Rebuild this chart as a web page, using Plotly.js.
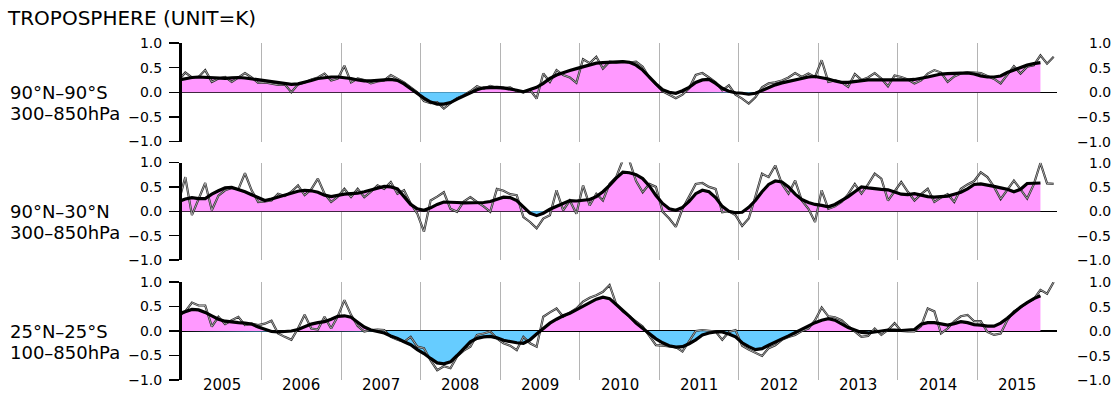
<!DOCTYPE html>
<html><head><meta charset="utf-8">
<script src="https://cdn.plot.ly/plotly-3.0.1.min.js"></script>
<style>html,body{margin:0;padding:0;background:#fff}#c{width:1120px;height:394px}</style>
</head><body><div id="c"></div>
<script>
const chartTitle = 'TROPOSPHERE (UNIT=K)';
const regionLabels = [['90°N–90°S', '300–850hPa'], ['90°N–30°N', '300–850hPa'], ['25°N–25°S', '100–850hPa']];
const yearLabels = ['2005','2006','2007','2008','2009','2010','2011','2012','2013','2014','2015'];
const yTicks = [-1, -0.5, 0, 0.5, 1];
const firstMonthOffset = -1; // series start in Dec 2004 (one month before Jan 2005)

// Monthly anomalies (K), Dec 2004 .. Dec 2015
const raw1 = [0.25,
 0.40,0.30,0.31,0.45,0.21,0.28,0.31,0.21,0.30,0.39,0.30,0.19,
 0.20,0.17,0.15,0.16,0.00,0.16,0.20,0.26,0.30,0.38,0.24,0.28,
 0.54,0.20,0.28,0.25,0.18,0.22,0.24,0.35,0.27,0.20,0.10,0.00,
 -0.18,-0.22,-0.20,-0.33,-0.22,-0.12,-0.06,0.02,0.12,0.07,0.13,0.09,
 0.08,0.10,0.02,0.00,0.05,-0.13,0.38,0.21,0.45,0.35,0.30,0.19,
 0.67,0.59,0.72,0.48,0.62,0.60,0.62,0.60,0.62,0.52,0.30,0.15,
 0.02,-0.05,-0.12,-0.05,0.08,0.35,0.39,0.30,0.20,0.04,0.14,-0.05,
 -0.13,-0.23,-0.10,0.10,0.18,0.20,0.24,0.30,0.39,0.31,0.38,0.31,
 0.65,0.21,0.24,0.20,0.11,0.37,0.25,0.30,0.39,0.28,0.12,0.34,
 0.31,0.26,0.18,0.24,0.38,0.45,0.40,0.21,0.32,0.38,0.41,0.40,
 0.39,0.33,0.27,0.18,0.35,0.53,0.38,0.52,0.55,0.75,0.58,0.72];
// Running mean (K), Dec 2004 .. Oct 2015
const smooth1 = [0.25,
 0.28,0.30,0.31,0.30,0.29,0.28,0.28,0.29,0.30,0.29,0.27,0.25,
 0.23,0.21,0.19,0.17,0.16,0.17,0.20,0.24,0.28,0.30,0.31,0.31,
 0.30,0.28,0.25,0.23,0.23,0.24,0.25,0.26,0.24,0.17,0.07,-0.03,
 -0.12,-0.20,-0.24,-0.24,-0.21,-0.14,-0.08,-0.01,0.05,0.09,0.10,0.10,
 0.09,0.07,0.04,0.01,0.05,0.10,0.18,0.28,0.35,0.40,0.44,0.48,
 0.52,0.56,0.59,0.60,0.61,0.62,0.62,0.61,0.55,0.45,0.30,0.17,
 0.05,0.00,-0.02,0.03,0.10,0.20,0.25,0.26,0.18,0.08,0.02,-0.01,
 -0.02,-0.04,-0.02,0.04,0.10,0.15,0.19,0.22,0.26,0.29,0.31,0.32,
 0.30,0.27,0.23,0.20,0.20,0.22,0.24,0.25,0.25,0.25,0.24,0.24,
 0.25,0.25,0.26,0.28,0.31,0.34,0.37,0.38,0.39,0.39,0.39,0.37,
 0.33,0.31,0.31,0.33,0.40,0.45,0.50,0.55,0.58,0.60];

const raw2 = [0.20,
 0.70,-0.08,0.25,0.58,0.02,0.32,0.43,0.48,0.45,0.78,0.43,0.19,
 0.20,0.22,0.36,0.31,0.40,0.53,0.33,0.45,0.67,0.36,0.19,0.30,
 0.46,0.29,0.46,0.29,0.40,0.53,0.46,0.60,0.36,0.43,0.16,-0.05,
 -0.42,0.22,0.30,0.39,0.05,-0.01,0.20,0.29,0.19,0.10,-0.01,0.46,
 0.42,0.35,0.33,-0.12,-0.22,-0.35,-0.15,-0.08,0.43,0.02,0.22,-0.05,
 0.53,0.12,0.36,0.22,0.56,0.70,1.05,1.03,0.62,0.39,0.56,0.50,
 -0.01,-0.15,-0.32,0.05,0.30,0.56,0.58,0.50,0.46,-0.02,0.00,-0.08,
 -0.30,-0.15,0.30,0.77,0.70,0.94,0.56,0.36,0.63,0.22,0.05,-0.22,
 0.43,0.05,0.10,0.19,0.35,0.56,0.36,0.55,0.77,0.67,0.22,0.40,
 0.60,0.40,0.22,0.35,0.46,0.19,0.28,0.35,0.19,0.46,0.55,0.62,
 0.80,0.70,0.50,0.25,0.45,0.63,0.45,0.26,0.55,0.99,0.57,0.56];
const smooth2 = [0.20,
 0.25,0.28,0.26,0.26,0.35,0.42,0.48,0.49,0.45,0.40,0.34,0.28,
 0.22,0.25,0.29,0.33,0.37,0.41,0.43,0.42,0.39,0.33,0.30,0.33,
 0.35,0.36,0.37,0.40,0.44,0.48,0.51,0.50,0.46,0.30,0.14,0.05,
 0.02,0.07,0.14,0.19,0.19,0.18,0.17,0.17,0.17,0.18,0.20,0.25,
 0.29,0.28,0.22,0.09,-0.04,-0.09,-0.04,0.04,0.10,0.16,0.22,0.21,
 0.22,0.24,0.30,0.40,0.53,0.68,0.80,0.79,0.75,0.67,0.52,0.32,
 0.16,0.05,0.02,0.08,0.20,0.36,0.43,0.40,0.28,0.10,0.00,-0.03,
 -0.02,0.08,0.22,0.40,0.55,0.62,0.60,0.50,0.35,0.24,0.18,0.14,
 0.12,0.09,0.14,0.22,0.30,0.40,0.50,0.48,0.46,0.45,0.44,0.40,
 0.35,0.34,0.36,0.33,0.30,0.29,0.30,0.31,0.35,0.39,0.46,0.55,
 0.56,0.54,0.51,0.48,0.45,0.40,0.45,0.57,0.58,0.58];

const raw3 = [0.30,
 0.40,0.58,0.52,0.52,0.09,0.29,0.14,0.22,0.29,0.12,0.15,0.12,
 0.15,0.21,-0.05,-0.12,-0.18,0.05,0.33,0.05,0.03,0.29,0.05,0.30,
 0.63,0.33,0.10,-0.01,0.02,0.03,0.02,-0.12,-0.18,-0.22,-0.12,-0.32,
 -0.35,-0.60,-0.80,-0.72,-0.76,-0.52,-0.40,-0.32,-0.08,-0.05,-0.01,-0.15,
 -0.25,-0.30,-0.39,-0.12,-0.25,-0.32,0.29,0.38,0.46,0.29,0.38,0.46,
 0.60,0.68,0.73,0.80,0.94,0.55,0.40,0.30,0.19,0.09,-0.10,-0.29,
 -0.30,-0.31,-0.33,-0.42,-0.22,0.00,0.02,0.00,-0.01,-0.18,-0.02,0.02,
 -0.30,-0.38,-0.45,-0.51,-0.35,-0.29,-0.18,-0.12,-0.08,0.00,0.05,0.22,
 0.48,0.30,0.28,0.22,0.10,-0.01,-0.12,-0.10,0.05,-0.08,0.02,0.16,
 0.00,-0.01,-0.01,0.10,0.46,0.40,-0.05,0.05,0.20,0.30,0.33,0.20,
 0.20,-0.02,-0.08,-0.05,0.22,0.40,0.48,0.58,0.65,0.84,0.76,1.00];
const smooth3 = [0.35,
 0.40,0.44,0.43,0.38,0.31,0.24,0.20,0.18,0.17,0.16,0.14,0.08,
 0.03,-0.01,-0.02,-0.01,0.00,0.03,0.08,0.14,0.17,0.19,0.24,0.30,
 0.31,0.28,0.18,0.08,0.02,-0.01,-0.04,-0.10,-0.15,-0.22,-0.28,-0.38,
 -0.46,-0.56,-0.65,-0.67,-0.63,-0.50,-0.36,-0.22,-0.15,-0.12,-0.11,-0.14,
 -0.19,-0.22,-0.24,-0.25,-0.18,-0.06,0.06,0.16,0.24,0.31,0.36,0.43,
 0.50,0.57,0.65,0.69,0.66,0.54,0.43,0.30,0.16,0.05,-0.07,-0.16,
 -0.24,-0.30,-0.33,-0.32,-0.26,-0.18,-0.08,-0.04,-0.02,-0.02,-0.06,-0.12,
 -0.24,-0.32,-0.38,-0.36,-0.29,-0.22,-0.16,-0.10,-0.03,0.03,0.11,0.17,
 0.22,0.25,0.22,0.15,0.07,0.02,-0.03,-0.04,-0.02,0.00,0.02,0.02,
 0.01,0.02,0.03,0.14,0.17,0.17,0.15,0.12,0.15,0.19,0.17,0.13,
 0.12,0.10,0.10,0.16,0.26,0.38,0.49,0.58,0.66,0.72];

const panels = [[raw1, smooth1], [raw2, smooth2], [raw3, smooth3]];
const PINK = '#ff99ff', BLUE = '#66ccff';
const FONT = 'DejaVu Sans, Liberation Sans, sans-serif';
const startYear = Number(yearLabels[0]);
const endYear = Number(yearLabels[yearLabels.length - 1]) + 1;

function monthX(k) { return startYear + (k + firstMonthOffset + 0.5) / 12; }
function fmt(v) { return (v < 0 ? '\u2212' : '') + Math.abs(v).toFixed(1); }

function splitFill(xs, ys) {
  const pos = {x: [], y: []}, neg = {x: [], y: []};
  for (let i = 0; i < ys.length; i++) {
    if (i > 0 && ys[i - 1] * ys[i] < 0) {
      const xc = xs[i - 1] + (xs[i] - xs[i - 1]) * (0 - ys[i - 1]) / (ys[i] - ys[i - 1]);
      pos.x.push(xc); pos.y.push(0); neg.x.push(xc); neg.y.push(0);
    }
    pos.x.push(xs[i]); pos.y.push(Math.max(ys[i], 0));
    neg.x.push(xs[i]); neg.y.push(Math.min(ys[i], 0));
  }
  return [pos, neg];
}

const traces = [];
panels.forEach(([raw, sm], p) => {
  const xa = p === 0 ? 'x' : 'x' + (p + 1);
  const ya = p === 0 ? 'y' : 'y' + (p + 1);
  const rx = raw.map((_, k) => monthX(k));
  const sx = sm.map((_, k) => monthX(k));
  const [pos, neg] = splitFill(sx, sm);
  traces.push({x: pos.x, y: pos.y, xaxis: xa, yaxis: ya, type: 'scatter', mode: 'lines',
    fill: 'tozeroy', fillcolor: PINK, line: {width: 0, color: PINK}, hoverinfo: 'skip'});
  traces.push({x: neg.x, y: neg.y, xaxis: xa, yaxis: ya, type: 'scatter', mode: 'lines',
    fill: 'tozeroy', fillcolor: BLUE, line: {width: 0, color: BLUE}, hoverinfo: 'skip'});
  traces.push({x: rx, y: raw, xaxis: xa, yaxis: ya, type: 'scatter', mode: 'lines',
    line: {color: '#2a2a2a', width: 2.2}, hoverinfo: 'skip'});
  traces.push({x: rx, y: raw, xaxis: xa, yaxis: ya, type: 'scatter', mode: 'lines',
    line: {color: '#d8d8d8', width: 0.7}, hoverinfo: 'skip'});
  traces.push({x: sx, y: sm, xaxis: xa, yaxis: ya, type: 'scatter', mode: 'lines',
    line: {color: '#000000', width: 3.2}, hoverinfo: 'skip'});
});

const H = 394, W = 1120, ML = 182, MR = 63, MT = 43, MB = 14;
const plotH = H - MT - MB, plotW = W - ML - MR;
function dom(topPx, botPx) { return [(H - MB - botPx) / plotH, (H - MB - topPx) / plotH]; }
const domains = [dom(43, 141.5), dom(162.5, 260), dom(282, 380)];

const yearMid = yearLabels.map(y => Number(y) + 0.5);
const yearEdges = yearLabels.map(Number).concat([endYear]);

const layout = {
  width: W, height: H,
  margin: {l: ML, r: MR, t: MT, b: MB, pad: 0},
  paper_bgcolor: '#fff', plot_bgcolor: '#fff',
  showlegend: false,
  font: {family: FONT, color: '#000', size: 14},
  title: {text: chartTitle, x: 8 / W, xanchor: 'left', xref: 'container',
    y: 1 - 18 / H, yanchor: 'middle', yref: 'container', font: {size: 20, family: FONT, color: '#000'}},
  annotations: []
};

for (let p = 0; p < 3; p++) {
  const xk = p === 0 ? 'xaxis' : 'xaxis' + (p + 1);
  const yk = p === 0 ? 'yaxis' : 'yaxis' + (p + 1);
  const yr = 'yaxis' + (p + 4);
  const xref = p === 0 ? 'x' : 'x' + (p + 1);
  const yref = p === 0 ? 'y' : 'y' + (p + 1);
  layout[xk] = {
    range: [startYear, endYear], domain: [0, 1], anchor: yref,
    tickmode: 'array', tickvals: yearMid, ticktext: yearLabels,
    showticklabels: false, ticks: '', showgrid: false, zeroline: false, showline: false,
    minor: {tickmode: 'array', tickvals: yearEdges, showgrid: true, gridcolor: '#b4b4b4', gridwidth: 1, ticks: ''},
    fixedrange: true
  };
  const yBase = {
    range: [-1, 1], domain: domains[p],
    tickmode: 'array', tickvals: yTicks, ticktext: yTicks.map(fmt),
    ticks: 'outside', ticklen: 10, tickwidth: 1.5, tickcolor: '#000',
    showline: true, linewidth: 3, linecolor: '#000', showgrid: false,
    tickfont: {size: 14, family: FONT, color: '#000'},
    fixedrange: true, layer: 'above traces'
  };
  layout[yk] = Object.assign({}, yBase, {anchor: xref, side: 'left',
    zeroline: true, zerolinecolor: '#000', zerolinewidth: 1.5, ticklabelstandoff: 4});
  layout[yr] = Object.assign({}, yBase, {anchor: xref, overlaying: yref,
    side: 'right', showticklabels: false, zeroline: false});
  // right-hand tick labels, right-aligned
  yTicks.forEach(v => layout.annotations.push({
    xref: 'paper', x: 1 + (1113 - (W - MR)) / plotW, xanchor: 'right',
    yref: yref, y: v, yanchor: 'middle', text: fmt(v), showarrow: false,
    font: {size: 14, family: FONT, color: '#000'}
  }));
  // region labels
  layout.annotations.push({xref: 'paper', x: (8 - ML) / plotW, xanchor: 'left',
    yref: yref, y: 0, yanchor: 'middle', text: regionLabels[p][0], showarrow: false,
    font: {size: 18, family: FONT, color: '#000'}});
  layout.annotations.push({xref: 'paper', x: (8 - ML) / plotW, xanchor: 'left',
    yref: yref, y: -0.43, yanchor: 'middle', text: regionLabels[p][1], showarrow: false,
    font: {size: 18, family: FONT, color: '#000'}});
}

// year labels centred between the year grid lines, below the bottom panel
yearLabels.forEach((lab, j) => layout.annotations.push({
  xref: 'x3', x: yearMid[j], xanchor: 'center',
  yref: 'paper', y: -(384.5 - (H - MB)) / plotH, yanchor: 'middle',
  text: lab, showarrow: false, borderpad: 0, font: {size: 15, family: FONT, color: '#000'}
}));

Plotly.newPlot('c', traces, layout, {displayModeBar: false, staticPlot: true});
</script>
</body></html>
